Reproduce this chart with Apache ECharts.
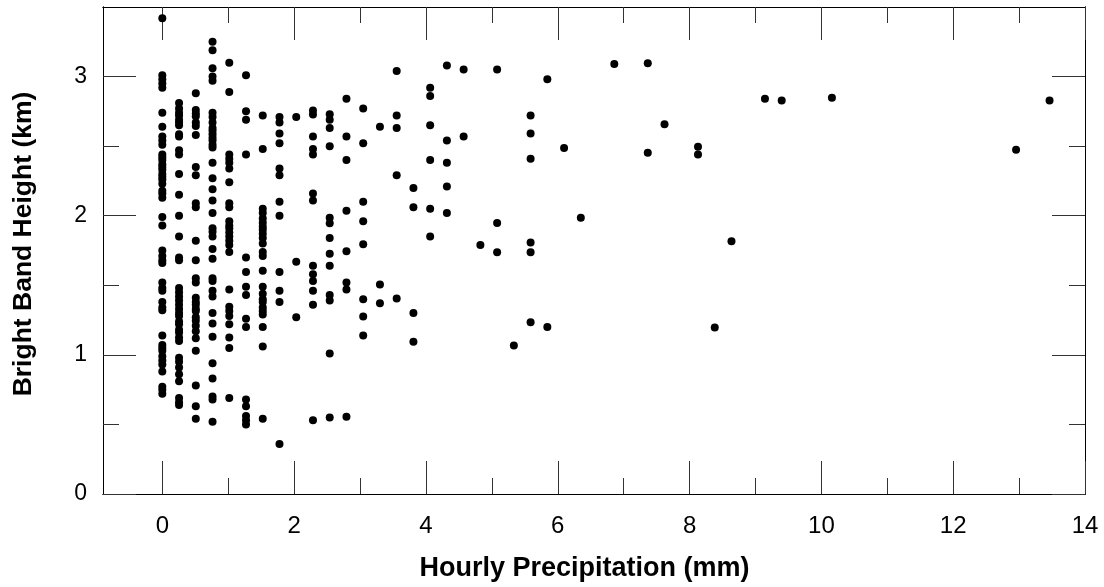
<!DOCTYPE html>
<html>
<head>
<meta charset="utf-8">
<script src="https://cdn.jsdelivr.net/npm/echarts@6/dist/echarts.min.js"></script>
<style>
html,body{margin:0;padding:0;background:#fff;}
#chart{width:1104px;height:587px;}
</style>
</head>
<body>
<div id="chart"></div>
<script>
// Hourly precipitation bins (mm), multiples of 0.254 mm (0.01 in)
const precipBins = [0, 0.254, 0.508, 0.762, 1.016, 1.27, 1.524, 1.778, 2.032, 2.286, 2.54, 2.794,
  3.048, 3.302, 3.556, 3.81, 4.064, 4.318, 4.572, 4.826, 5.08, 5.334, 5.588, 5.842, 6.096, 6.35,
  6.858, 7.366, 7.62, 8.128, 8.382, 8.636, 9.144, 9.398, 10.16, 12.954, 13.462];

// Bright band heights (km) observed at each precipitation bin
const heightsByBin = [
  [3.42, 3.01, 2.98, 2.95, 2.92, 2.74, 2.64, 2.57, 2.54, 2.51, 2.44, 2.42, 2.40, 2.37, 2.35, 2.33, 2.30, 2.28, 2.26, 2.23, 2.18, 2.16, 2.13, 1.99, 1.93, 1.75, 1.71, 1.68, 1.66, 1.52, 1.48, 1.46, 1.38, 1.34, 1.32, 1.14, 1.07, 1.05, 1.03, 0.99, 0.96, 0.93, 0.88, 0.77, 0.75, 0.72],
  [2.81, 2.77, 2.74, 2.72, 2.69, 2.67, 2.65, 2.585, 2.57, 2.47, 2.44, 2.30, 2.15, 2.00, 1.85, 1.70, 1.68, 1.48, 1.45, 1.42, 1.39, 1.36, 1.33, 1.30, 1.28, 1.24, 1.22, 1.18, 1.16, 1.125, 1.10, 0.98, 0.95, 0.91, 0.86, 0.81, 0.69, 0.66, 0.64],
  [2.88, 2.76, 2.735, 2.715, 2.67, 2.645, 2.58, 2.35, 2.29, 2.09, 2.06, 1.82, 1.68, 1.55, 1.52, 1.41, 1.38, 1.36, 1.33, 1.315, 1.27, 1.245, 1.21, 1.17, 1.12, 1.03, 0.78, 0.63, 0.54],
  [3.25, 3.19, 3.06, 3.00, 2.97, 2.74, 2.71, 2.67, 2.63, 2.61, 2.585, 2.56, 2.54, 2.51, 2.49, 2.38, 2.27, 2.19, 2.11, 2.02, 1.91, 1.885, 1.85, 1.76, 1.69, 1.55, 1.53, 1.46, 1.42, 1.30, 1.225, 1.13, 0.94, 0.83, 0.70, 0.68, 0.52],
  [3.10, 2.89, 2.44, 2.41, 2.38, 2.34, 2.24, 2.09, 2.06, 1.96, 1.93, 1.91, 1.88, 1.85, 1.82, 1.79, 1.74, 1.47, 1.345, 1.315, 1.28, 1.22, 1.125, 1.05, 0.69],
  [3.01, 2.75, 2.69, 2.44, 1.70, 1.595, 1.49, 1.43, 1.26, 1.20, 0.68, 0.63, 0.56, 0.53, 0.50],
  [2.72, 2.48, 2.05, 2.02, 1.98, 1.95, 1.92, 1.90, 1.87, 1.84, 1.80, 1.74, 1.71, 1.605, 1.49, 1.44, 1.40, 1.38, 1.34, 1.315, 1.29, 1.20, 1.06, 0.54],
  [2.71, 2.67, 2.59, 2.52, 2.34, 2.29, 2.10, 2.00, 1.595, 1.46, 1.38, 0.36],
  [2.71, 1.67, 1.27],
  [2.756, 2.728, 2.57, 2.48, 2.44, 2.16, 2.11, 1.64, 1.58, 1.53, 1.46, 1.36, 0.53],
  [2.73, 2.69, 2.63, 2.50, 1.985, 1.945, 1.84, 1.726, 1.64, 1.43, 1.39, 1.01, 0.55],
  [2.84, 2.57, 2.40, 2.035, 1.745, 1.52, 1.47, 0.556],
  [2.77, 2.52, 2.10, 1.96, 1.795, 1.40, 1.275, 1.14],
  [2.64, 1.505, 1.37],
  [3.04, 2.72, 2.63, 2.29, 1.405],
  [2.20, 2.06, 1.30, 1.095],
  [2.92, 2.86, 2.65, 2.40, 2.05, 1.85],
  [3.08, 2.54, 2.38, 2.21, 2.02],
  [3.05, 2.57],
  [1.79],
  [3.05, 1.947, 1.738],
  [1.068],
  [2.72, 2.59, 2.41, 1.807, 1.738, 1.234],
  [2.98, 1.20],
  [2.486],
  [1.985],
  [3.09],
  [3.096, 2.452],
  [2.657],
  [2.495, 2.44],
  [1.197],
  [1.816],
  [2.84],
  [2.828],
  [2.847],
  [2.474],
  [2.828]
];

const xMajorTicks = [0, 2, 4, 6, 8, 10, 12, 14];
const xMinorTicks = [1, 3, 5, 7, 9, 11, 13];
const yMajorTicks = [0, 1, 2, 3];
const yMinorTicks = [0.5, 1.5, 2.5];

const points = [];
precipBins.forEach((p, i) => heightsByBin[i].forEach(h => points.push([p, h])));

const FONT = 'Liberation Sans, Arial, sans-serif';
const X_MIN = -0.9, X_MAX = 14, Y_MIN = 0, Y_MAX = 3.5;
const tickStyle = { color: '#333', width: 1 };

function xAx(position, ticks, len, labels, extra) {
  return Object.assign({
    type: 'value', position: position, min: X_MIN, max: X_MAX,
    axisLine: { show: true, onZero: false, lineStyle: { color: '#000', width: 1 } },
    axisTick: { show: true, inside: true, length: len, customValues: ticks, lineStyle: tickStyle },
    axisLabel: labels ? { show: true, customValues: labels, fontSize: 24, color: '#000', fontFamily: FONT, margin: 20 } : { show: false },
    splitLine: { show: false }
  }, extra || {});
}
function yAx(position, ticks, len, labels, extra) {
  return Object.assign({
    type: 'value', position: position, min: Y_MIN, max: Y_MAX,
    axisLine: { show: true, onZero: false, lineStyle: { color: '#000', width: 1 } },
    axisTick: { show: true, inside: true, length: len, customValues: ticks, lineStyle: tickStyle },
    axisLabel: labels ? { show: true, customValues: labels, fontSize: 23, color: '#000', fontFamily: FONT, margin: 16 } : { show: false },
    splitLine: { show: false }
  }, extra || {});
}

const chart = echarts.init(document.getElementById('chart'), null, { renderer: 'canvas' });
chart.setOption({
  backgroundColor: '#fff',
  animation: false,
  grid: { left: 103, top: 7, width: 982, height: 491, show: false },
  xAxis: [
    xAx('bottom', xMajorTicks, 33, xMajorTicks, {
      name: 'Hourly Precipitation (mm)', nameLocation: 'middle', nameGap: 61,
      nameTextStyle: { fontSize: 27, fontWeight: 'bold', color: '#000', fontFamily: FONT, padding: [0, 19, 0, 0] }
    }),
    xAx('bottom', xMinorTicks, 16, null),
    xAx('top', xMajorTicks, 33, null),
    xAx('top', xMinorTicks, 16, null)
  ],
  yAxis: [
    yAx('left', yMajorTicks, 33, yMajorTicks, {
      name: 'Bright Band Height (km)', nameLocation: 'middle', nameGap: 66, nameRotate: 90,
      nameTextStyle: { fontSize: 26.5, fontWeight: 'bold', color: '#000', fontFamily: FONT, padding: [0, 0, 0, 13] }
    }),
    yAx('left', yMinorTicks, 16, null),
    yAx('right', yMajorTicks, 33, null),
    yAx('right', yMinorTicks, 16, null)
  ],
  series: [{
    type: 'scatter',
    xAxisIndex: 0, yAxisIndex: 0,
    data: points,
    symbol: 'circle',
    symbolSize: 8,
    itemStyle: { color: '#000', opacity: 1 },
    silent: true
  }]
});
</script>
</body>
</html>
